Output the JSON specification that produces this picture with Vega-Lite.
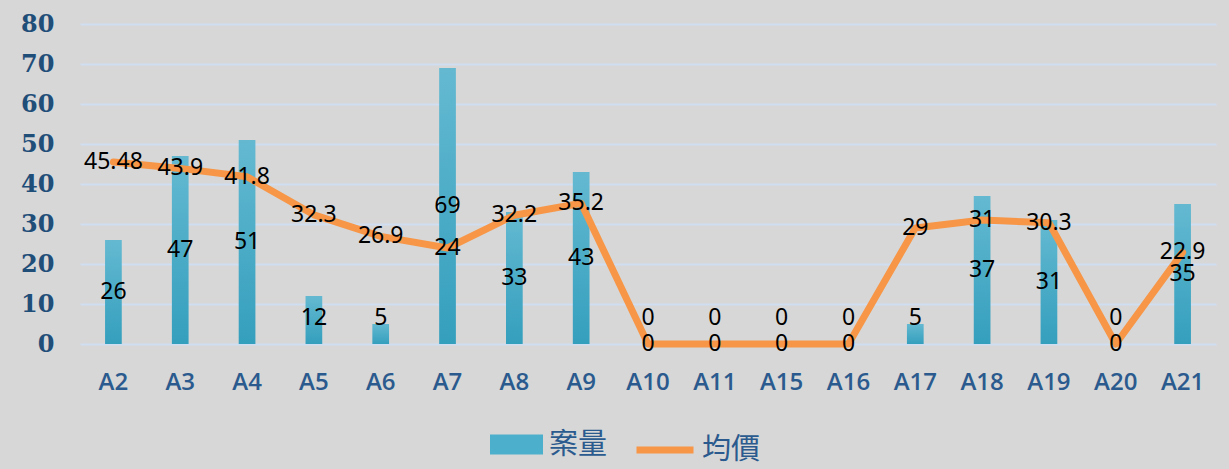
{
  "$schema": "https://vega.github.io/schema/vega-lite/v6.json",
  "autosize": "none",
  "width": 1136,
  "height": 320,
  "padding": {"left": 80, "top": 24, "right": 13, "bottom": 125},
  "background": "#d7d7d7",
  "config": {
    "view": {"stroke": null},
    "axisY": {
      "tickCount": 8, "labelOverlap": false,
      "domain": false, "ticks": false, "grid": true,
      "gridColor": "#d0def1", "gridWidth": 2,
      "labelFont": "DejaVu Serif", "labelFontWeight": "bold", "labelFontSize": 24,
      "labelColor": "#1f4e79", "labelPadding": 26
    }
  },
  "data": {"values": [
    {"cat": "A2", "cases": 26, "price": 45.48},
    {"cat": "A3", "cases": 47, "price": 43.9},
    {"cat": "A4", "cases": 51, "price": 41.8},
    {"cat": "A5", "cases": 12, "price": 32.3},
    {"cat": "A6", "cases": 5, "price": 26.9},
    {"cat": "A7", "cases": 69, "price": 24},
    {"cat": "A8", "cases": 33, "price": 32.2},
    {"cat": "A9", "cases": 43, "price": 35.2},
    {"cat": "A10", "cases": 0, "price": 0},
    {"cat": "A11", "cases": 0, "price": 0},
    {"cat": "A15", "cases": 0, "price": 0},
    {"cat": "A16", "cases": 0, "price": 0},
    {"cat": "A17", "cases": 5, "price": 29},
    {"cat": "A18", "cases": 37, "price": 31},
    {"cat": "A19", "cases": 31, "price": 30.3},
    {"cat": "A20", "cases": 0, "price": 0},
    {"cat": "A21", "cases": 35, "price": 22.9}
  ]},
  "transform": [{"calculate": "max(datum.cases / 2, 6.5)", "as": "mid"}],
  "encoding": {
    "x": {
      "field": "cat", "type": "nominal", "sort": null,
      "scale": {"paddingInner": 0.75, "paddingOuter": 0.375},
      "axis": {
        "title": null, "labelAngle": 0, "domain": false, "ticks": false,
        "labelFont": "Open Sans", "labelFontWeight": 600, "labelFontSize": 24,
        "labelColor": "#2a5a8e", "labelPadding": 26
      }
    }
  },
  "layer": [
    {
      "mark": {"type": "bar", "fill": {"gradient": "linear", "x1": 0, "y1": 0, "x2": 0, "y2": 1,
        "stops": [{"offset": 0, "color": "#64b9d1"}, {"offset": 1, "color": "#349fbd"}]}},
      "encoding": {
        "y": {
          "field": "cases", "type": "quantitative",
          "scale": {"domain": [0, 80], "nice": false},
          "axis": {"title": null}
        }
      }
    },
    {
      "mark": {"type": "bar", "opacity": 0},
      "encoding": {
        "y": {"field": "cases", "type": "quantitative", "axis": {"title": null}},
        "fill": {
          "datum": "案量", "type": "nominal",
          "scale": {"range": ["#4cb0cc"]},
          "legend": {
            "title": null, "orient": "none", "legendX": 410, "legendY": 394,
            "padding": 0, "symbolOpacity": 1,
            "symbolType": "M-1,-0.38H1V0.38H-1Z", "symbolSize": 2809,
            "symbolStrokeWidth": 0,
            "labelFont": "Noto Sans CJK TC", "labelFontSize": 29, "labelColor": "#2a5a8e",
            "labelOffset": 6
          }
        }
      }
    },
    {
      "mark": {"type": "line", "strokeWidth": 7, "strokeCap": "round", "strokeJoin": "round"},
      "encoding": {
        "y": {"field": "price", "type": "quantitative", "axis": {"title": null}},
        "stroke": {
          "datum": "均價", "type": "nominal",
          "scale": {"range": ["#f79646"]},
          "legend": {
            "title": null, "orient": "none", "legendX": 553, "legendY": 394,
            "padding": 0, "symbolType": "stroke", "symbolSize": 3249,
            "symbolStrokeWidth": 7,
            "labelFont": "Noto Sans CJK TC", "labelFontSize": 29, "labelColor": "#2a5a8e",
            "labelOffset": 5
          }
        }
      }
    },
    {
      "mark": {"type": "text", "font": "Noto Sans", "fontSize": 23, "color": "#000000", "baseline": "middle"},
      "encoding": {
        "y": {"field": "mid", "type": "quantitative", "axis": {"title": null}},
        "text": {"field": "cases", "type": "nominal"}
      }
    },
    {
      "mark": {"type": "text", "font": "Noto Sans", "fontSize": 23, "color": "#000000", "baseline": "middle"},
      "encoding": {
        "y": {"field": "price", "type": "quantitative", "axis": {"title": null}},
        "text": {"field": "price", "type": "nominal"}
      }
    }
  ]
}
